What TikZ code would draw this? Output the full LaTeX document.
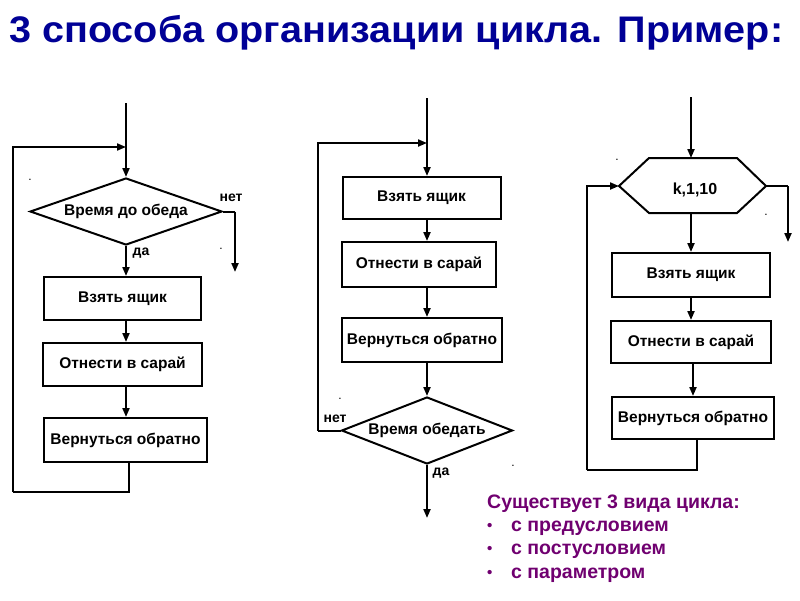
\documentclass[tikz,border=0pt]{standalone}
\usepackage{fontspec}
\setmainfont{Liberation Sans}
\usetikzlibrary{arrows.meta,shapes.geometric}
\definecolor{titleblue}{RGB}{0,0,150}
\definecolor{notepurple}{RGB}{112,0,112}
\tikzset{
  ln/.style={line width=2pt, line join=miter},
  arr/.style={ln, -{Triangle[length=9pt,width=7pt]}},
  box/.style={ln, draw, rectangle, inner sep=0pt, font=\fontsize{15.5}{17}\selectfont\bfseries},
  dia/.style={ln, draw, diamond, inner sep=0pt, font=\fontsize{15.5}{17}\selectfont\bfseries},
  lbl/.style={font=\fontsize{14}{16}\selectfont\bfseries, inner sep=0pt},
  dotmark/.style={font=\fontsize{12}{14}\selectfont, inner sep=0pt, anchor=base},
  note/.style={text=notepurple, font=\fontsize{19.5}{21}\selectfont\bfseries, inner sep=0pt, anchor=base west},
  bul/.style={text=notepurple, font=\fontsize{15}{17}\selectfont\bfseries, inner sep=0pt, anchor=base west},
}
\begin{document}
\begin{tikzpicture}[x=1pt,y=-1pt]
\useasboundingbox (0,0) rectangle (800,600);
% title
\node[anchor=base west, inner sep=0pt, text=titleblue, font=\fontsize{37}{39}\selectfont\bfseries] (title) at (9,42)
  {\resizebox{774pt}{\height}{3 способа организации цикла. Пример:}};

% ---------- left: precondition ----------
\node[dia, aspect=2.87, minimum width=192pt, minimum height=67pt] (d1) at (126,211.5) {Время до обеда};
\node[box, minimum width=157pt, minimum height=43pt] (a1) at (122.5,298.5) {Взять ящик};
\node[box, minimum width=159pt, minimum height=43pt] (a2) at (122.5,364.5) {Отнести в сарай};
\node[box, minimum width=163pt, minimum height=44pt] (a3) at (125.5,440) {Вернуться обратно};
\coordinate (t1) at (126,103);
\coordinate (j1) at (126,147);
\coordinate (lc1) at (13,492);
\coordinate (e1) at (235,211.5);
\coordinate (x1) at (235,272);
\draw[arr] (t1) -- (d1.north);
\draw[arr] (d1.south) -- (d1.south |- a1.north);
\draw[arr] (d1.south |- a1.south) -- (d1.south |- a2.north);
\draw[arr] (d1.south |- a2.south) -- (d1.south |- a3.north);
\draw[ln] ([xshift=3.5pt]a3.south) |- (lc1);
\draw[arr] (lc1) |- (j1);
\draw[ln] (d1.east) -- (e1);
\draw[arr] (e1) -- (x1);
\node[lbl] (n1) at (231,198) {нет};
\node[lbl] (y1) at (141,253) {да};

% ---------- middle: postcondition ----------
\node[box, minimum width=158pt, minimum height=42pt] (b1) at (421.5,198) {Взять ящик};
\node[box, minimum width=154pt, minimum height=45pt] (b2) at (419,264.5) {Отнести в сарай};
\node[box, minimum width=160pt, minimum height=44pt] (b3) at (422,340) {Вернуться обратно};
\node[dia, aspect=2.55, minimum width=171pt, minimum height=67pt] (d2) at (427,430.5) {Время обедать};
\coordinate (t2) at (427,98);
\coordinate (j2) at (427,143);
\coordinate (e2) at (318,430.5);
\coordinate (x2) at (427,518);
\draw[arr] (t2) -- (t2 |- b1.north);
\draw[arr] (t2 |- b1.south) -- (t2 |- b2.north);
\draw[arr] (t2 |- b2.south) -- (t2 |- b3.north);
\draw[arr] (t2 |- b3.south) -- (d2.north);
\draw[ln] (d2.west) -- (e2);
\draw[arr] (e2) |- (j2);
\draw[arr] (d2.south) -- (x2);
\node[lbl] (n2) at (335,419) {нет};
\node[lbl] (y2) at (441,473) {да};

% ---------- right: parameter ----------
\coordinate (h1) at (649,158);
\coordinate (h2) at (737,158);
\coordinate (hr) at (766,186);
\coordinate (h4) at (737,213);
\coordinate (h5) at (649,213);
\coordinate (hl) at (619,186);
\coordinate (ht) at (691,158);
\coordinate (hb) at (691,213);
\draw[ln] (h1) -- (h2) -- (hr) -- (h4) -- (h5) -- (hl) -- cycle;
\node[font=\fontsize{16}{18}\selectfont\bfseries, inner sep=0pt] (k) at (695,190) {k,1,10};
\node[box, minimum width=158pt, minimum height=44pt] (c1) at (691,275) {Взять ящик};
\node[box, minimum width=160pt, minimum height=42pt] (c2) at (691,342) {Отнести в сарай};
\node[box, minimum width=162pt, minimum height=42pt] (c3) at (693,418) {Вернуться обратно};
\coordinate (t3) at (691,97);
\coordinate (e3) at (788,186);
\coordinate (x3) at (788,242);
\coordinate (lc3) at (587,470);
\draw[arr] (t3) -- (ht);
\draw[arr] (hb) -- (hb |- c1.north);
\draw[arr] (hb |- c1.south) -- (hb |- c2.north);
\draw[arr] ([xshift=2pt]hb |- c2.south) -- ([xshift=2pt]hb |- c3.north);
\draw[ln] (hr) -- (e3);
\draw[arr] (e3) -- (x3);
\draw[ln] ([xshift=4pt]c3.south) |- (lc3);
\draw[arr] (lc3) |- (hl);

% stray dots
\node[dotmark] (p1) at (30,180) {.};
\node[dotmark] (p2) at (221,249) {.};
\node[dotmark] (p3) at (340,399) {.};
\node[dotmark] (p4) at (513,466) {.};
\node[dotmark] (p5) at (617,160) {.};
\node[dotmark] (p6) at (766,215) {.};

% note
\node[note] (s0) at (487,508) {Существует 3 вида цикла:};
\node[bul] (u1) at (487,530) {•};
\node[note] (s1) at (511,531) {с предусловием};
\node[bul] (u2) at (487,553) {•};
\node[note] (s2) at (511,554) {с постусловием};
\node[bul] (u3) at (487,577) {•};
\node[note] (s3) at (511,578) {с параметром};
\end{tikzpicture}
\end{document}
